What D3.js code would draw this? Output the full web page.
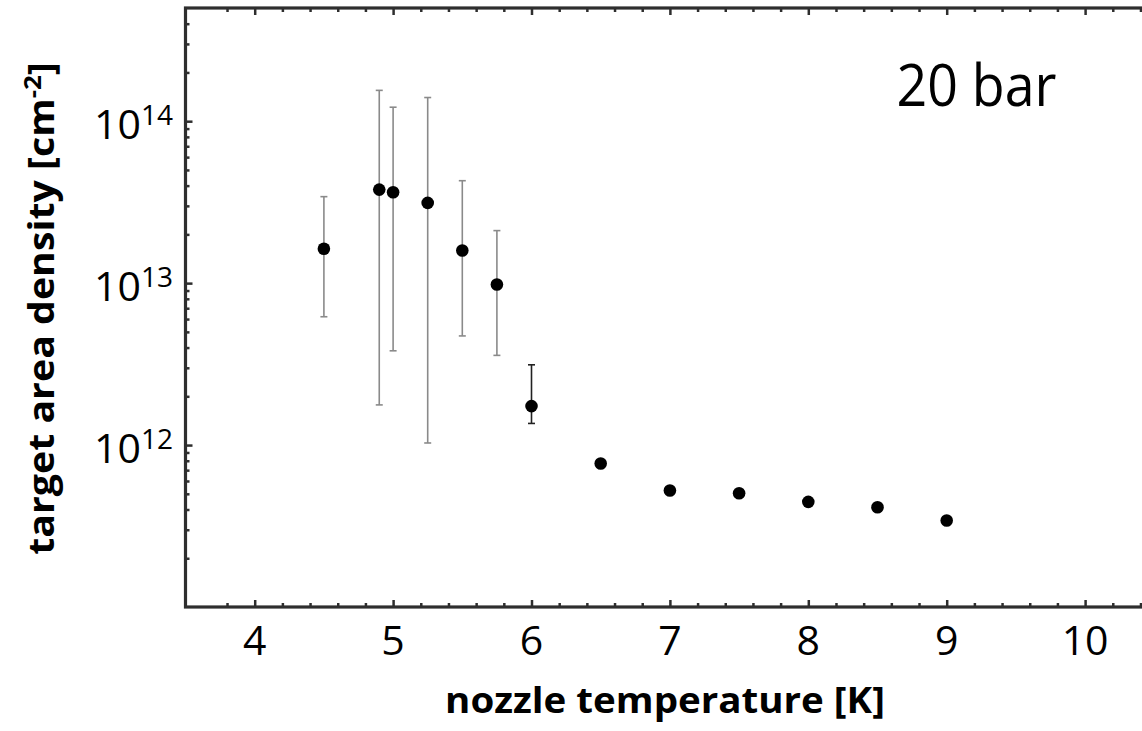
<!DOCTYPE html>
<html><head><meta charset="utf-8">
<script src="https://cdn.jsdelivr.net/npm/d3@7"></script>
<style>
body{margin:0;background:#fff;}
svg{display:block;font-family:'Open Sans','Noto Sans',sans-serif;}
</style>
</head><body>
<svg id="c" width="1142" height="731"></svg>
<script>
// ---- data ----
const temperatures = [4.5, 4.9, 5.0, 5.25, 5.5, 5.75, 6.0, 6.5, 7.0, 7.5, 8.0, 8.5, 9.0];
const densities    = [1.63e13, 3.78e13, 3.64e13, 3.13e13, 1.59e13, 9.8e12, 1.74e12, 7.7e11, 5.24e11, 5.04e11, 4.46e11, 4.13e11, 3.42e11];
const errTemps = [4.5, 4.9, 5.0, 5.25, 5.5, 5.75, 6.0];
const errLow   = [6.2e12, 1.77e12, 3.82e12, 1.03e12, 4.72e12, 3.58e12, 1.36e12];
const errHigh  = [3.42e13, 1.55e14, 1.22e14, 1.40e14, 4.29e13, 2.11e13, 3.13e12];
const xTickValues = [4, 5, 6, 7, 8, 9, 10];
const yTickExponents = [12, 13, 14];
const xDomain = [3.5, 10.5];
const yDomain = [1e11, 5e14];
const annotationText = "20 bar";
const xTitle = "nozzle temperature [K]";
const yTitleMain = "target area density [cm";
const yTitleSup = "-2";
const yTitleEnd = "]";

(function(){
// ---- layout ----
const svg = d3.select("#c");
const padL = 185.5, padT = 8, padB = 607;
const pxPerUnit = 138.4;
const x = d3.scaleLinear().domain(xDomain).range([padL, padL + (xDomain[1]-xDomain[0]) * pxPerUnit]);
const y = d3.scaleLog().domain(yDomain).range([padB, padT]);
const frameCol = "#2e2e2e";

// minor tick values
const xMinor = d3.range(Math.round(xDomain[0]*5)+1, Math.round(xDomain[1]*5)).map(v => v/5)
  .filter(v => Math.abs(v - Math.round(v)) > 1e-6);
const yMinor = [];
for (let e = 11; e <= 14; e++) for (let k = 2; k <= 9; k++) { const v = k * Math.pow(10, e); if (v < yDomain[1]) yMinor.push(v); }
const yMajor = yTickExponents.map(e => Math.pow(10, e));

function styleAxis(g) {
  g.select(".domain").remove();
  g.selectAll(".tick line").attr("stroke", frameCol).attr("stroke-width", 2.5);
  g.selectAll(".tick text").remove();
}
// bottom
svg.append("g").attr("transform", `translate(0,${padB})`)
  .call(d3.axisBottom(x).tickValues(xMinor).tickSize(-4).tickSizeOuter(0)).call(styleAxis);
svg.append("g").attr("transform", `translate(0,${padB})`)
  .call(d3.axisBottom(x).tickValues(xTickValues).tickSize(-7).tickSizeOuter(0)).call(styleAxis);
// top
svg.append("g").attr("transform", `translate(0,${padT})`)
  .call(d3.axisTop(x).tickValues(xMinor).tickSize(-4).tickSizeOuter(0)).call(styleAxis);
svg.append("g").attr("transform", `translate(0,${padT})`)
  .call(d3.axisTop(x).tickValues(xTickValues).tickSize(-7).tickSizeOuter(0)).call(styleAxis);
// left
svg.append("g").attr("transform", `translate(${padL},0)`)
  .call(d3.axisLeft(y).tickValues(yMinor).tickSize(-4).tickSizeOuter(0)).call(styleAxis);
svg.append("g").attr("transform", `translate(${padL},0)`)
  .call(d3.axisLeft(y).tickValues(yMajor).tickSize(-7).tickSizeOuter(0)).call(styleAxis);

// frame
svg.append("rect").attr("x", padL).attr("y", padT)
  .attr("width", x(xDomain[1]) - padL).attr("height", padB - padT)
  .attr("fill", "none").attr("stroke", frameCol).attr("stroke-width", 3.2);

// x tick labels
svg.append("g").selectAll("text").data(xTickValues).join("text")
  .attr("x", d => x(d)).attr("y", 655).attr("text-anchor", "middle")
  .attr("font-size", 41).attr("fill", "#000").text(d => d);

// y tick labels
const yl = svg.append("g").selectAll("text").data(yTickExponents).join("text")
  .attr("x", 173).attr("y", d => y(Math.pow(10, d)) + 18).attr("text-anchor", "end")
  .attr("font-size", 41).attr("fill", "#000");
yl.append("tspan").text("10");
yl.append("tspan").attr("font-size", 28).attr("dy", -14).text(d => d);

// error bars
const errData = errTemps.map((t, i) => ({t, lo: errLow[i], hi: errHigh[i], i}));
const eg = svg.append("g");
errData.forEach(d => {
  const col = d.t === 6.0 ? "#222" : "#8a8a8a";
  const cx = x(d.t);
  eg.append("line").attr("x1", cx).attr("x2", cx).attr("y1", y(d.lo)).attr("y2", y(d.hi))
    .attr("stroke", col).attr("stroke-width", 1.6);
  [d.lo, d.hi].forEach(v => eg.append("line").attr("x1", cx - 3.5).attr("x2", cx + 3.5)
    .attr("y1", y(v)).attr("y2", y(v)).attr("stroke", col).attr("stroke-width", 1.6));
});

// points
svg.append("g").selectAll("circle").data(temperatures).join("circle")
  .attr("cx", d => x(d)).attr("cy", (d, i) => y(densities[i])).attr("r", 6.3).attr("fill", "#000");

// helper to squeeze text horizontally to target width
function fit(textSel, w) {
  const bw = textSel.node().getComputedTextLength();
  const sx = w / bw;
  textSel.attr("transform", `scale(${sx},1)`);
}

// annotation
{
  const g = svg.append("g").attr("transform", "translate(896.5,106)");
  const t = g.append("text").attr("x", 0).attr("y", 0).attr("font-size", 58).attr("fill", "#000").text(annotationText);
  fit(t, 160);
}
// x title
{
  const g = svg.append("g").attr("transform", "translate(665,713)");
  const t = g.append("text").attr("text-anchor", "middle").attr("font-size", 35).attr("font-weight", "bold")
    .attr("fill", "#000").text(xTitle);
  fit(t, 440);
}
// y title
{
  const g = svg.append("g").attr("transform", "translate(54,308.5) rotate(-90)");
  const t = g.append("text").attr("text-anchor", "middle").attr("font-size", 35).attr("font-weight", "bold").attr("fill", "#000");
  t.append("tspan").text(yTitleMain);
  t.append("tspan").attr("font-size", 23).attr("dy", -13).text(yTitleSup);
  t.append("tspan").attr("dy", 13).text(yTitleEnd);
  fit(t, 493);
}
})();
</script>
</body></html>
